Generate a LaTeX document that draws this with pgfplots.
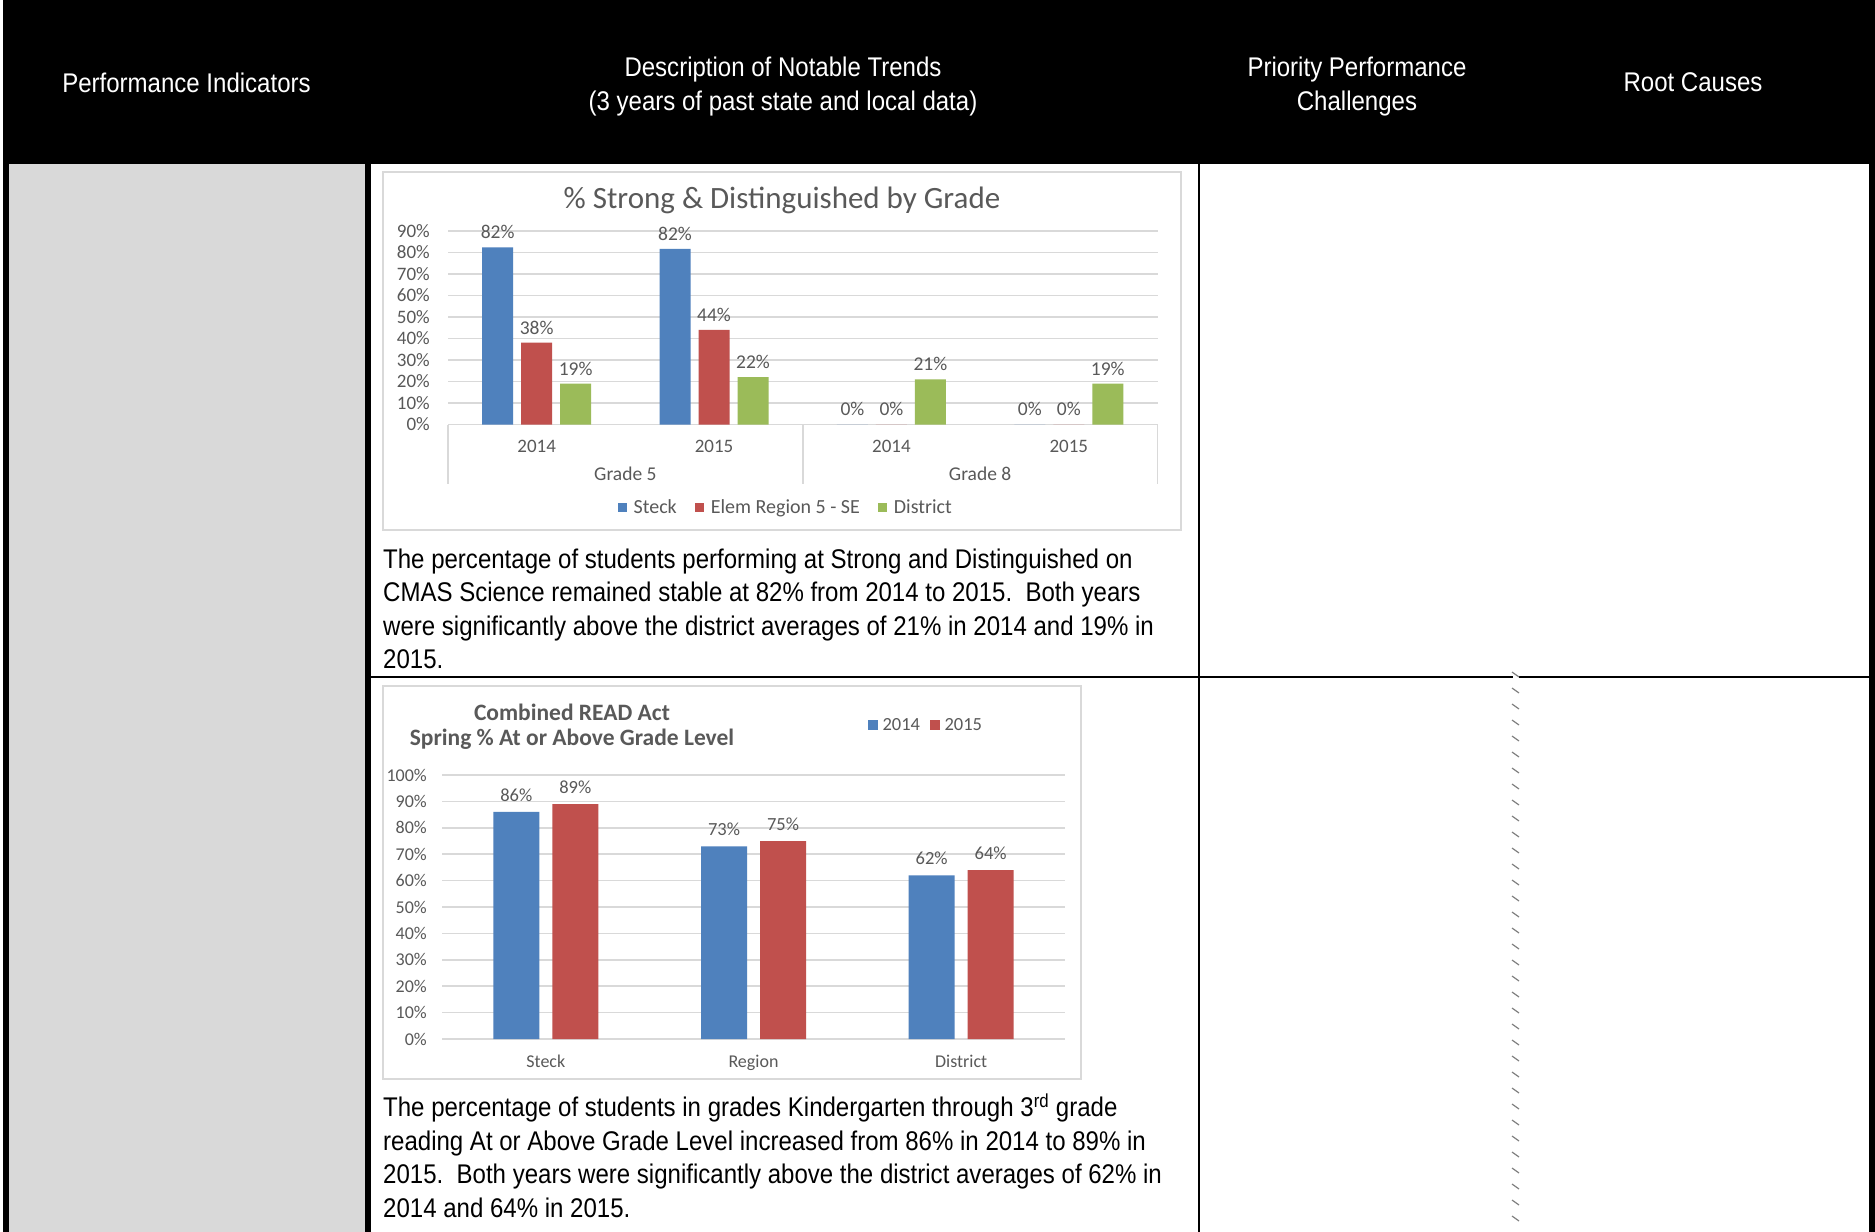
\documentclass[border=0pt]{standalone}
\usepackage{pgfplots}
\pgfplotsset{compat=1.18}
\usepackage{fontspec}
\setmainfont{Liberation Sans}
\newfontfamily\narrowfont{Liberation Sans}[FakeStretch=0.89]
\newfontfamily\calfont{Carlito}
\definecolor{xblue}{HTML}{4F81BD}
\definecolor{xred}{HTML}{C0504D}
\definecolor{xgreen}{HTML}{9BBB59}
\definecolor{xtext}{HTML}{595959}
\definecolor{xgrid}{HTML}{D9D9D9}
\definecolor{cellgray}{HTML}{D9D9D9}
\begin{document}
\begin{tikzpicture}[x=1pt,y=1pt]
\useasboundingbox (0,0) rectangle (1875,-1232);
\fill[white] (0,0) rectangle (1875,-1232);
% table
\fill[black] (3,0) rectangle (1875,-164);
\fill[black] (3,-164) rectangle (9,-1232);
\fill[cellgray] (9,-164) rectangle (365,-1232);
\fill[black] (365,-164) rectangle (371,-1232);
\fill[black] (1198,-164) rectangle (1200,-1232);
\fill[black] (1869,-164) rectangle (1875,-1232);
\fill[black] (371,-676) rectangle (1869,-678);
\fill[white] (1513,-675) rectangle (1519,-679);
\foreach \yy in {672,688,...,1224} \draw[gray, line width=1.2pt] (1512,-\yy) -- (1519,-\yy-5);
% header
\begin{scope}[every node/.style={white, align=center, inner sep=0pt, font=\narrowfont\fontsize{27}{34}\selectfont}]
\node at (186.5,-82.5) {Performance Indicators};
\node at (783,-86.5) {Description of Notable Trends\\(3 years of past state and local data)};
\node at (1357,-86.5) {Priority Performance\\Challenges};
\node at (1693,-82.5) {Root Causes};
\end{scope}
% body text
\begin{scope}[every node/.style={black, anchor=base west, inner sep=0pt, font=\narrowfont\fontsize{27}{34}\selectfont}]
\node at (383,-568) {The percentage of students performing at Strong and Distinguished on};
\node at (383,-601.5) {CMAS Science remained stable at 82\% from 2014 to 2015.\ \ Both years};
\node at (383,-635) {were significantly above the district averages of 21\% in 2014 and 19\% in};
\node at (383,-668.5) {2015.};
\node at (383,-1116.5) {The percentage of students in grades Kindergarten through 3\textsuperscript{rd} grade};
\node at (383,-1150.5) {reading At or Above Grade Level increased from 86\% in 2014 to 89\% in};
\node at (383,-1183.5) {2015.\ \ Both years were significantly above the district averages of 62\% in};
\node at (383,-1217.5) {2014 and 64\% in 2015.};
\end{scope}
% chart 1
\draw[xgrid, line width=2pt] (383,-172) rectangle (1181,-530);
\node[color=xtext, inner sep=0pt, font=\calfont\fontsize{31}{33}\selectfont] at (782,-200.5) {\% Strong \& Distinguished by Grade};
\begin{axis}[
  at={(448pt,-424.5pt)}, anchor=south west, scale only axis,
  width=709.5pt, height=193.7pt,
  ymin=0, ymax=90, xmin=-0.5, xmax=3.5,
  /pgf/number format/assume math mode=true,
  ybar=8pt, bar width=31pt,
  xtick={0,1,2,3}, xticklabels={2014,2015,2014,2015},
  ytick={0,10,...,90}, yticklabel={\pgfmathprintnumber{\tick}\%},
  ymajorgrids, grid style={xgrid, line width=1.5pt},
  axis line style={draw=none}, major tick length=0pt,
  tick label style={font=\calfont\fontsize{19}{21}\selectfont, color=xtext},
  yticklabel style={anchor=east, inner sep=0pt, xshift=-18pt},
  xticklabel style={anchor=base, inner sep=0pt, yshift=-27.5pt},
  nodes near coords={\pgfmathprintnumber[fixed,precision=0]{\pgfplotspointmeta}\%},
  every node near coord/.append style={font=\calfont\fontsize{19.5}{21}\selectfont, color=xtext, anchor=base, inner sep=0pt, yshift=8.6pt},
  legend style={at={(0.476,-0.427)}, anchor=center, draw=none, fill=none, legend columns=-1,
    font=\calfont\fontsize{20}{22}\selectfont, text=xtext,
    /tikz/every odd column/.append style={column sep=5pt},
    /tikz/every even column/.append style={column sep=16pt}},
  legend image code/.code={\fill[#1] (0pt,-4.5pt) rectangle (9pt,4.5pt);},
  clip=false,
]
\addplot[fill=xblue, draw=none] coordinates {(0,82.3) (1,81.6) (2,0) (3,0)};
\addplot[fill=xred, draw=none] coordinates {(0,38) (1,44) (2,0) (3,0)};
\addplot[fill=xgreen, draw=none] coordinates {(0,19) (1,22) (2,21) (3,19)};
\legend{Steck, Elem Region 5 - SE, District}
\draw[xgrid, line width=1.5pt] (axis cs:-0.5,0) -- ++(0pt,-59.5pt);
\draw[xgrid, line width=1.5pt] (axis cs:1.5,0) -- ++(0pt,-59.5pt);
\draw[xgrid, line width=1.5pt] (axis cs:3.5,0) -- ++(0pt,-59.5pt);
\node[color=xtext, inner sep=0pt, font=\calfont\fontsize{19.5}{21}\selectfont] at ([yshift=-49.5pt]axis cs:0.5,0) {Grade 5};
\node[color=xtext, inner sep=0pt, font=\calfont\fontsize{19.5}{21}\selectfont] at ([yshift=-49.5pt]axis cs:2.5,0) {Grade 8};
\end{axis}
% chart 2
\draw[xgrid, line width=2pt] (383,-686) rectangle (1081,-1079);
\node[color=xtext, inner sep=0pt, font=\calfont\bfseries\fontsize{23.5}{25}\selectfont] at (572,-712.5) {Combined READ Act};
\node[color=xtext, inner sep=0pt, font=\calfont\bfseries\fontsize{23.5}{25}\selectfont] at (572,-739) {Spring \% At or Above Grade Level};
\begin{axis}[
  at={(442pt,-1039pt)}, anchor=south west, scale only axis,
  width=623pt, height=264pt,
  ymin=0, ymax=100, xmin=-0.5, xmax=2.5,
  /pgf/number format/assume math mode=true,
  ybar=13pt, bar width=46pt,
  xtick={0,1,2}, xticklabels={Steck,Region,District},
  ytick={0,10,...,100}, yticklabel={\pgfmathprintnumber{\tick}\%},
  ymajorgrids, grid style={xgrid, line width=1.5pt},
  axis line style={draw=none}, major tick length=0pt,
  tick label style={font=\calfont\fontsize{18}{20}\selectfont, color=xtext},
  yticklabel style={anchor=east, inner sep=0pt, xshift=-15pt},
  xticklabel style={anchor=base, inner sep=0pt, yshift=-28.5pt},
  nodes near coords={\pgfmathprintnumber[fixed,precision=0]{\pgfplotspointmeta}\%},
  every node near coord/.append style={font=\calfont\fontsize{18.5}{20}\selectfont, color=xtext, anchor=base, inner sep=0pt, yshift=10.6pt},
  legend style={at={(0.777,1.19)}, anchor=center, draw=none, fill=none, legend columns=-1,
    font=\calfont\fontsize{18.5}{20}\selectfont, text=xtext,
    /tikz/every odd column/.append style={column sep=3pt},
    /tikz/every even column/.append style={column sep=8pt}},
  legend image code/.code={\fill[#1] (0pt,-4.75pt) rectangle (9.5pt,4.75pt);},
  clip=false,
]
\addplot[fill=xblue, draw=none] coordinates {(0,86) (1,73) (2,62)};
\addplot[fill=xred, draw=none] coordinates {(0,89) (1,75) (2,64)};
\legend{2014, 2015}
\end{axis}
\end{tikzpicture}
\end{document}
